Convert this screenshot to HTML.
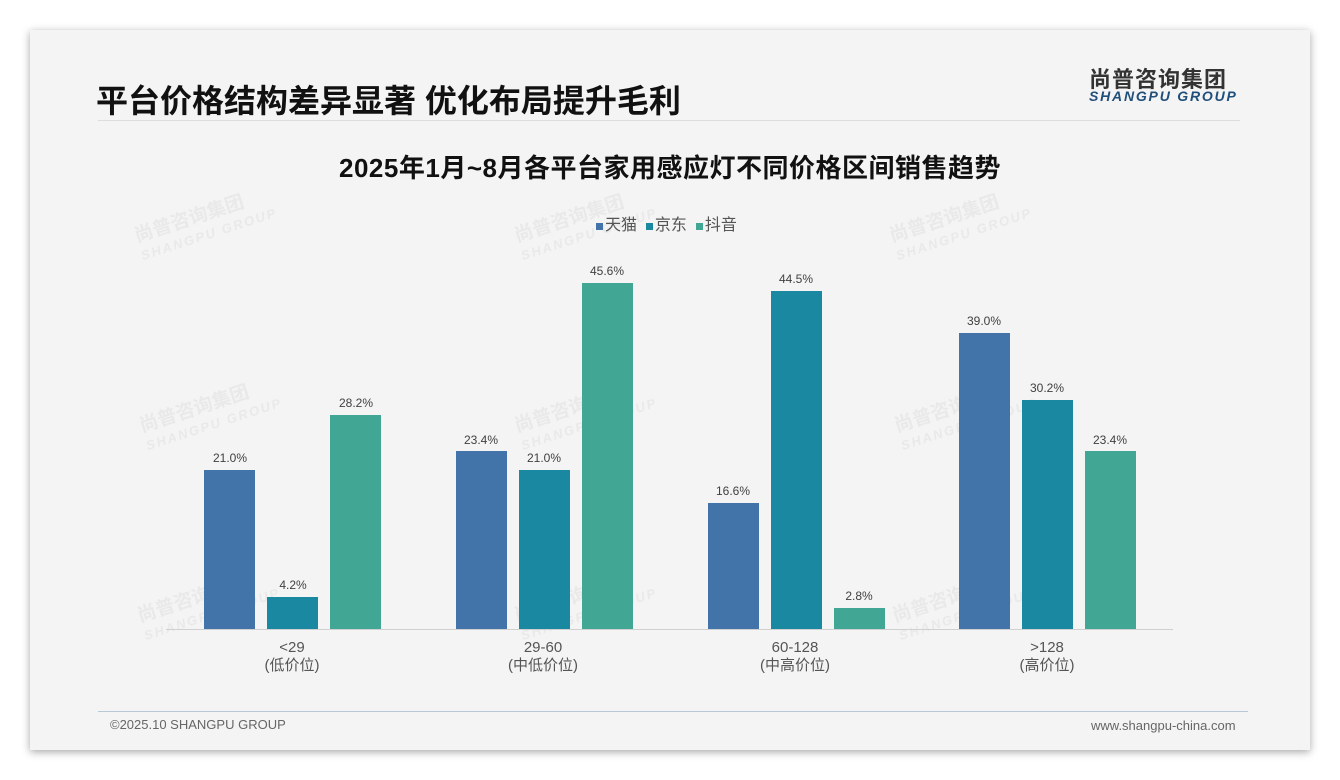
<!DOCTYPE html>
<html><head><meta charset="utf-8"><style>
body{margin:0;width:1340px;height:780px;background:#fff;position:relative;overflow:hidden;font-family:"Liberation Sans","Noto Sans CJK SC",sans-serif}
.card{position:absolute;left:30px;top:30px;width:1280px;height:720px;background:#f4f4f4;box-shadow:0 2px 8px rgba(0,0,0,.35)}
.t{position:absolute;white-space:nowrap}
.bar{position:absolute;width:51px}
.b{background:#4374a9}.j{background:#1b88a1}.d{background:#41a693}
.v{position:absolute;width:80px;text-align:center;font-size:12px;color:#404040}
.x{position:absolute;width:160px;text-align:center;font-size:15px;color:#555;line-height:18px}
.wm{position:absolute;color:rgba(190,190,190,.2);font-weight:bold;transform:rotate(-18deg);line-height:20px;font-size:19px}
.wm span{display:block;font-size:13px;letter-spacing:2px;font-style:italic}
</style></head><body>
<div class="card"></div>
<div class="wm" style="left:135px;top:205px">尚普咨询集团<span>SHANGPU GROUP</span></div>
<div class="wm" style="left:515px;top:205px">尚普咨询集团<span>SHANGPU GROUP</span></div>
<div class="wm" style="left:890px;top:205px">尚普咨询集团<span>SHANGPU GROUP</span></div>
<div class="wm" style="left:140px;top:395px">尚普咨询集团<span>SHANGPU GROUP</span></div>
<div class="wm" style="left:515px;top:395px">尚普咨询集团<span>SHANGPU GROUP</span></div>
<div class="wm" style="left:895px;top:395px">尚普咨询集团<span>SHANGPU GROUP</span></div>
<div class="wm" style="left:138px;top:585px">尚普咨询集团<span>SHANGPU GROUP</span></div>
<div class="wm" style="left:515px;top:585px">尚普咨询集团<span>SHANGPU GROUP</span></div>
<div class="wm" style="left:893px;top:585px">尚普咨询集团<span>SHANGPU GROUP</span></div>
<div class="t" style="left:96px;top:76px;font-size:32px;font-weight:bold;color:#111;letter-spacing:0">平台价格结构差异显著 优化布局提升毛利</div>
<div style="position:absolute;left:98px;top:120px;width:1142px;height:1px;background:#ddd"></div>
<div class="t" style="left:1089px;top:62px;font-size:22px;font-weight:bold;color:#333;letter-spacing:1px">尚普咨询集团</div>
<div class="t" style="left:1089px;top:88px;font-size:14px;font-weight:bold;font-style:italic;color:#1f4f7a;letter-spacing:1.8px">SHANGPU GROUP</div>
<div class="t" style="left:0;width:1340px;text-align:center;top:148px;font-size:26px;font-weight:bold;color:#111;letter-spacing:0.5px">2025年1月~8月各平台家用感应灯不同价格区间销售趋势</div>
<div class="t" style="left:596px;top:211px;font-size:16px;color:#555">
<span style="display:inline-block;width:7px;height:7px;background:#4374a9;margin-right:2px"></span>天猫 &nbsp;<span style="display:inline-block;width:7px;height:7px;background:#1b88a1;margin-right:2px"></span>京东 &nbsp;<span style="display:inline-block;width:7px;height:7px;background:#41a693;margin-right:2px"></span>抖音</div>
<div style="position:absolute;left:166px;top:629px;width:1007px;height:1px;background:#d0d0d0"></div>

<div class="bar b" style="left:204px;top:470px;height:159px"></div><div class="v" style="left:190px;top:451px">21.0%</div>
<div class="bar j" style="left:267px;top:597px;height:32px"></div><div class="v" style="left:253px;top:578px">4.2%</div>
<div class="bar d" style="left:330px;top:415px;height:214px"></div><div class="v" style="left:316px;top:396px">28.2%</div>

<div class="bar b" style="left:456px;top:451px;height:178px"></div><div class="v" style="left:441px;top:433px">23.4%</div>
<div class="bar j" style="left:519px;top:470px;height:159px"></div><div class="v" style="left:504px;top:451px">21.0%</div>
<div class="bar d" style="left:582px;top:283px;height:346px"></div><div class="v" style="left:567px;top:264px">45.6%</div>

<div class="bar b" style="left:708px;top:503px;height:126px"></div><div class="v" style="left:693px;top:484px">16.6%</div>
<div class="bar j" style="left:771px;top:291px;height:338px"></div><div class="v" style="left:756px;top:272px">44.5%</div>
<div class="bar d" style="left:834px;top:608px;height:21px"></div><div class="v" style="left:819px;top:589px">2.8%</div>

<div class="bar b" style="left:959px;top:333px;height:296px"></div><div class="v" style="left:944px;top:314px">39.0%</div>
<div class="bar j" style="left:1022px;top:400px;height:229px"></div><div class="v" style="left:1007px;top:381px">30.2%</div>
<div class="bar d" style="left:1085px;top:451px;height:178px"></div><div class="v" style="left:1070px;top:433px">23.4%</div>

<div class="x" style="left:212px;top:639px">&lt;29<br>(低价位)</div>
<div class="x" style="left:463px;top:639px">29-60<br>(中低价位)</div>
<div class="x" style="left:715px;top:639px">60-128<br>(中高价位)</div>
<div class="x" style="left:967px;top:639px">&gt;128<br>(高价位)</div>

<div style="position:absolute;left:98px;top:711px;width:1150px;height:1px;background:#b8c8d8"></div>
<div class="t" style="left:110px;top:717px;font-size:13px;color:#666">©2025.10 SHANGPU GROUP</div>
<div class="t" style="left:1091px;top:718px;font-size:13px;color:#666">www.shangpu-china.com</div>
</body></html>
